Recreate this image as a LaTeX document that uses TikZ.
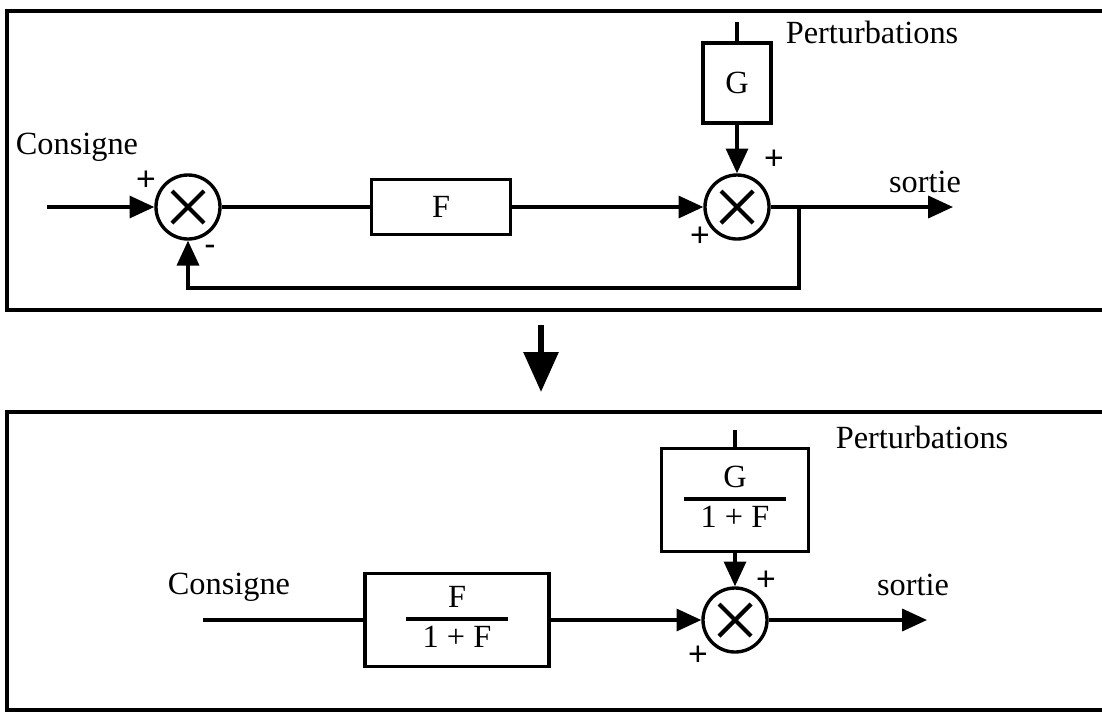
\documentclass[tikz,border=0pt]{standalone}
\usepackage{fontspec}
\setmainfont{Liberation Serif}
\setsansfont{Liberation Sans}
\usetikzlibrary{arrows.meta}
\newcommand{\ratio}[2]{\begin{tabular}{@{}c@{}}#1\\[-18pt]\rule{2.55cm}{2.4pt}\\[-8pt]#2\end{tabular}}

\begin{document}
\begin{tikzpicture}[x=0.025cm, y=-0.025cm, line width=2.4pt,
  every node/.style={font=\fontsize{23}{27}\selectfont},
  block/.style={rectangle, draw, line width=2.4pt},
  sum/.style={circle, draw, minimum size=1.6cm, inner sep=0pt, line width=2.4pt,
    path picture={\draw[line width=3pt] (path picture bounding box.center) +(-0.4cm,-0.4cm) -- +(0.4cm,0.4cm) +(-0.4cm,0.4cm) -- +(0.4cm,-0.4cm);}},
  sign/.style={font=\sffamily\fontsize{24}{28}\selectfont, inner sep=0pt},
  arr/.style={-{Triangle[length=0.62cm, width=0.55cm]}},
  frame/.style={line width=3pt}]

\useasboundingbox (0,0) rectangle (1102,712);

% cadres
\draw[frame] (7,11) rectangle (1108,310);
\draw[frame] (7,412) rectangle (1108,710);

% boucle fermee
\coordinate (in1) at (47,207);
\node (s1) [sum] at (188,207) {};
\node (F) [block, minimum width=3.475cm, minimum height=1.375cm] at (441,207) {F};
\node (s2) [sum] at (737,207) {};
\node (G) [block, minimum width=1.7cm, minimum height=2cm] at (737,83) {G};
\coordinate (p1) at (737,22);
\coordinate (br1) at (799,207);
\coordinate (fb1) at (799,288);
\coordinate (out1) at (953,207);

\node (cons1) at (77,147) {Consigne};
\node (pert1) at (872,32) {Perturbations};
\node (sort1) at (925,182) {sortie};
\node (sg1) [sign] at (146,181) {+};
\node (sg2) [sign] at (210,250) {-};
\node (sg3) [sign] at (774,160) {+};
\node (sg4) [sign] at (700,237) {+};

\draw[arr] (in1) -- (s1);
\draw (s1) -- (F);
\draw[arr] (F) -- (s2);
\draw (p1) -- (G);
\draw[arr] (G) -- (s2);
\draw[arr] (s2) -- (out1);
\draw[arr] (br1) -- (fb1) -| (s1);

% passage
\coordinate (a1) at (541,325);
\coordinate (a2) at (541,392);
\draw[line width=4.3pt, -{Triangle[length=1cm, width=0.85cm]}] (a1) -- (a2);

% forme equivalente
\coordinate (in2) at (203,620);
\node (R1) [block, minimum width=4.6cm, minimum height=2.325cm] at (457,620) {\ratio{F}{1 + F}};
\node (s3) [sum] at (735,620) {};
\node (R2) [block, minimum width=3.675cm, minimum height=2.575cm] at (735,500) {\ratio{G}{1 + F}};
\coordinate (p2) at (735,430);
\coordinate (out2) at (927,620);

\node (cons2) at (229,587) {Consigne};
\node (pert2) at (922,437) {Perturbations};
\node (sort2) at (913,585) {sortie};
\node (sg5) [sign] at (766,581) {+};
\node (sg6) [sign] at (698,656) {+};

\draw (in2) -- (R1);
\draw[arr] (R1) -- (s3);
\draw (p2) -- (R2);
\draw[arr] (R2) -- (s3);
\draw[arr] (s3) -- (out2);

\end{tikzpicture}
\end{document}
